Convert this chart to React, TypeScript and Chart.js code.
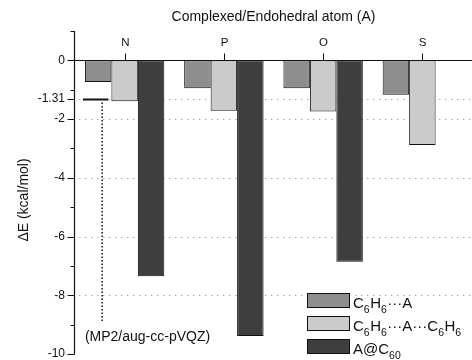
import React, { useEffect, useRef } from "react";
import { Chart, registerables } from "chart.js";

Chart.register(...registerables);

const categories = ["N", "P", "O", "S"];
const seriesNames = ["C6H6···A", "C6H6···A···C6H6", "A@C60"];
const complexA = [-0.74, -0.95, -0.95, -1.17];
const sandwich = [-1.39, -1.72, -1.74, -2.88];
const endohedral: (number | null)[] = [-7.35, -9.39, -6.86, null];
const seriesColors = ["#8e8e8e", "#cbcbcb", "#3e3e3e"];
const yLabelTicks = [0, -1.31, -2, -4, -6, -8, -10];
const yMinorTicks = [1, -1, -3, -5, -7, -9];
const gridValues = [-1.31, -2, -4, -6, -8];
const referenceValue = -1.31;
const referenceNote = "(MP2/aug-cc-pVQZ)";
const xTitle = "Complexed/Endohedral atom (A)";
const yTitle = "ΔE (kcal/mol)";
// [text, isSubscript]
const legendParts: [string, number][][] = [
  [["C", 0], ["6", 1], ["H", 0], ["6", 1], ["···A", 0]],
  [["C", 0], ["6", 1], ["H", 0], ["6", 1], ["···A···C", 0], ["6", 1], ["H", 0], ["6", 1]],
  [["A@C", 0], ["60", 1]],
];

const FONT = '"Liberation Sans", Arial, Helvetica, sans-serif';
const INK = "#111111";

function seg(ctx: CanvasRenderingContext2D, x1: number, y1: number, x2: number, y2: number) {
  ctx.beginPath();
  ctx.moveTo(x1, y1);
  ctx.lineTo(x2, y2);
  ctx.stroke();
}

const decor = {
  id: "decor",
  beforeDatasetsDraw(chart: any) {
    const { ctx, chartArea: ca, scales } = chart;
    const y = scales.y;
    ctx.save();
    ctx.strokeStyle = "#a8a8a8";
    ctx.lineWidth = 1;
    ctx.setLineDash([1.5, 4.5]);
    gridValues.forEach((v) => {
      const py = Math.round(y.getPixelForValue(v)) + 0.5;
      seg(ctx, ca.left + 4, py, ca.right, py);
    });
    ctx.restore();
  },
  afterDatasetsDraw(chart: any) {
    const { ctx, chartArea: ca, scales } = chart;
    const x = scales.x;
    const y = scales.y;
    ctx.save();
    ctx.setLineDash([]);
    ctx.strokeStyle = INK;
    ctx.fillStyle = INK;

    const y0 = Math.round(y.getPixelForValue(0)) + 0.5;
    const ax = Math.round(ca.left) - 0.5;

    // zero line
    ctx.lineWidth = 1.2;
    seg(ctx, ax, y0, ca.right, y0);
    // y axis line
    seg(ctx, ax, y.getPixelForValue(1), ax, y.getPixelForValue(-10) + 0.5);
    // y ticks
    ctx.lineWidth = 1;
    yLabelTicks.forEach((v) => {
      const py = Math.round(y.getPixelForValue(v)) + 0.5;
      seg(ctx, ax - 7, py, ax, py);
    });
    yMinorTicks.forEach((v) => {
      const py = Math.round(y.getPixelForValue(v)) + 0.5;
      seg(ctx, ax - 4, py, ax, py);
    });

    // category ticks and labels
    ctx.font = `11.5px ${FONT}`;
    ctx.textAlign = "center";
    ctx.textBaseline = "middle";
    categories.forEach((c, i) => {
      const px = Math.round(x.getPixelForValue(i)) + 0.5;
      seg(ctx, px, y0, px, y0 - 7);
      ctx.fillText(c, px, y0 - 17.5);
    });

    // x title
    ctx.font = `14px ${FONT}`;
    ctx.fillText(xTitle, (ca.left + ca.right) / 2, 17);

    // y title
    ctx.save();
    ctx.translate(24.5, 200);
    ctx.rotate(-Math.PI / 2);
    ctx.fillText(yTitle, 0, 0);
    ctx.restore();

    // reference annotation
    const b = chart.getDatasetMeta(0).data[0];
    const left = b.x - b.width / 2;
    const right = b.x + b.width / 2;
    const ry = Math.round(y.getPixelForValue(referenceValue)) + 0.5;
    ctx.lineWidth = 2;
    seg(ctx, left - 2, ry, right - 3, ry);
    ctx.lineWidth = 1.5;
    ctx.setLineDash([1.5, 2]);
    const vx = b.x + 4;
    seg(ctx, vx, ry + 3, vx, y.getPixelForValue(-8.9));
    ctx.setLineDash([]);
    ctx.textAlign = "left";
    ctx.font = `14px ${FONT}`;
    ctx.fillText(referenceNote, left, y.getPixelForValue(-9.42));

    // legend
    const sw = 43;
    const sh = 15;
    const sx = ca.right - 165;
    ctx.textBaseline = "alphabetic";
    legendParts.forEach((parts, i) => {
      const bottom = Math.round(ca.bottom - (legendParts.length - 1 - i) * 23);
      ctx.fillStyle = seriesColors[i];
      ctx.fillRect(sx, bottom - sh, sw, sh);
      ctx.lineWidth = 1;
      ctx.strokeStyle = INK;
      ctx.strokeRect(sx + 0.5, bottom - sh + 0.5, sw - 1, sh - 1);
      ctx.fillStyle = INK;
      let tx = sx + sw + 3;
      parts.forEach(([t, sub]) => {
        ctx.font = sub ? `10.5px ${FONT}` : `15px ${FONT}`;
        ctx.fillText(t, tx, sub ? bottom + 4.5 : bottom);
        tx += ctx.measureText(t).width + (sub ? 0.5 : 0);
      });
    });

    ctx.restore();
  },
};

export default function App() {
  const ref = useRef<HTMLCanvasElement | null>(null);

  useEffect(() => {
    document.body.style.margin = "0";
    const canvas = ref.current;
    if (!canvas) return;
    const allTicks = [...yMinorTicks, ...yLabelTicks].sort((a, b) => b - a);
    const chart = new Chart(canvas, {
      type: "bar",
      data: {
        labels: categories,
        datasets: [complexA, sandwich, endohedral].map((d, i) => ({
          label: seriesNames[i],
          data: d,
          backgroundColor: seriesColors[i],
          borderColor: INK,
          borderWidth: 1,
          borderSkipped: false,
          categoryPercentage: 0.8,
          barPercentage: 1.0,
        })),
      },
      options: {
        responsive: false,
        animation: false,
        devicePixelRatio: 1,
        layout: { padding: { top: 31, bottom: 6, left: 0, right: 0 } },
        plugins: {
          legend: { display: false },
          tooltip: { enabled: false },
          title: { display: false },
        },
        scales: {
          x: {
            type: "category",
            display: false,
            offset: true,
          },
          y: {
            type: "linear",
            min: -10,
            max: 1,
            grid: { display: false, drawTicks: false },
            border: { display: false },
            ticks: {
              autoSkip: false,
              padding: 10,
              color: INK,
              font: { family: FONT, size: 12 },
              callback: (v: any) => (yLabelTicks.includes(Number(v)) ? String(v) : ""),
            },
            afterBuildTicks: (s: any) => {
              s.ticks = allTicks.map((v) => ({ value: v }));
            },
            afterFit: (s: any) => {
              s.width = 75;
              s.paddingTop = 0;
              s.paddingBottom = 0;
            },
          },
        },
      },
      plugins: [decor],
    } as any);
    return () => chart.destroy();
  }, []);

  return (
    <div style={{ position: "absolute", left: 0, top: 0, width: 472, height: 360, background: "#fff" }}>
      <canvas ref={ref} width={472} height={360} style={{ display: "block" }} />
    </div>
  );
}
